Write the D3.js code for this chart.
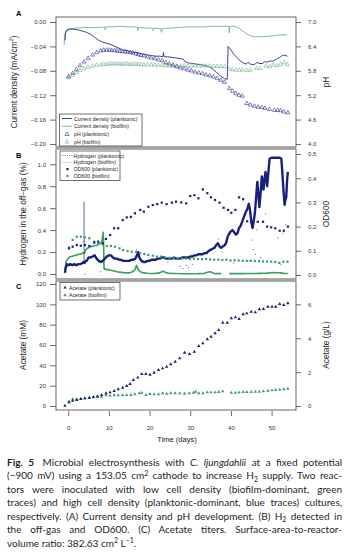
<!DOCTYPE html>
<html>
<head>
<meta charset="utf-8">
<script src="https://cdn.jsdelivr.net/npm/d3@7"></script>
<style>
  body { margin: 0; background: #fff; }
  svg { display: block; }
</style>
</head>
<body>
<svg id="chart" width="352" height="556"></svg>
<script>
// ---- data: [day, value] ----
const currentPlanktonic = [[-0.8,-0.030],[-0.6,-0.018],[-0.3,-0.013],[0.5,-0.011],[1.5,-0.012],[2.5,-0.013],[3.5,-0.015],[4.5,-0.017],[5.5,-0.020],[6.5,-0.025],[7.5,-0.030],[8.5,-0.033],[9.5,-0.035],[10.5,-0.037],[11.5,-0.040],[12.5,-0.043],[13.5,-0.046],[14.5,-0.047],[15.5,-0.049],[16.5,-0.050],[17.5,-0.051],[18.5,-0.053],[19.5,-0.054],[20.5,-0.055],[21.5,-0.056],[22.5,-0.056],[23.3,-0.057],[23.4,-0.050],[23.6,-0.057],[24.5,-0.057],[25.5,-0.058],[26.5,-0.059],[27.5,-0.060],[28.3,-0.061],[28.7,-0.065],[29.5,-0.067],[30.5,-0.068],[31.5,-0.069],[32.5,-0.070],[33.5,-0.071],[34.5,-0.073],[35.5,-0.077],[36.5,-0.083],[37.5,-0.089],[38.5,-0.093],[39.1,-0.094],[39.3,-0.040],[39.8,-0.044],[40.5,-0.051],[41.3,-0.057],[42,-0.062],[43,-0.067],[43.8,-0.069],[44.2,-0.066],[44.7,-0.069],[45.4,-0.070],[46,-0.069],[46.4,-0.066],[46.9,-0.068],[47.8,-0.068],[48.3,-0.065],[48.8,-0.066],[49.5,-0.064],[50.3,-0.064],[51.2,-0.061],[52,-0.058],[52.8,-0.054],[53.9,-0.056]]
const currentBiofilm = [[-1,-0.038],[-0.9,-0.020],[-0.5,-0.014],[0.5,-0.012],[2,-0.010],[4,-0.009],[6,-0.009],[8,-0.009],[9,-0.008],[9.1,-0.013],[9.3,-0.008],[11,-0.008],[13,-0.007],[15,-0.008],[17,-0.008],[17.1,-0.014],[17.3,-0.009],[19,-0.010],[20.8,-0.010],[20.9,-0.014],[21.1,-0.010],[22.8,-0.011],[22.9,-0.017],[23.1,-0.011],[25,-0.010],[27,-0.009],[30,-0.008],[33,-0.008],[36,-0.007],[39.5,-0.007],[39.6,-0.018],[39.8,-0.007],[41,-0.007],[42,-0.010],[43,-0.015],[44,-0.020],[45,-0.023],[46,-0.024],[48,-0.024],[50,-0.023],[52,-0.021],[53.8,-0.021]]
const pHPlanktonic = [[0.1,5.66],[1.1,5.74],[2,5.83],[2.9,5.93],[3.9,6.02],[4.9,6.11],[6,6.19],[7,6.25],[8,6.29],[8.7,6.31],[9.4,6.31],[10.1,6.31],[10.7,6.30],[11.4,6.30],[12,6.29],[12.7,6.28],[13.3,6.27],[14,6.27],[14.6,6.26],[15.3,6.25],[15.9,6.24],[16.6,6.22],[17.2,6.20],[17.9,6.18],[18.6,6.17],[19.5,6.14],[20.4,6.12],[21.3,6.10],[22.2,6.07],[23.1,6.05],[24,6.00],[24.9,5.97],[25.8,5.94],[26.7,5.90],[27.6,5.87],[28.5,5.85],[29.4,5.82],[30.3,5.80],[31.2,5.77],[32.1,5.75],[33,5.73],[33.9,5.70],[34.8,5.68],[35.7,5.65],[36.6,5.61],[37.5,5.57],[38.4,5.52],[39.6,5.37],[40.4,5.30],[41.2,5.24],[42,5.20],[42.8,5.18],[43.9,5.00],[44.8,4.96],[45.8,4.93],[46.7,4.91],[47.6,4.90],[48.4,4.88],[49.5,4.85],[50.7,4.83],[51.5,4.83],[52.2,4.82],[53,4.79],[54,4.77]]
const pHBiofilm = [[0.1,5.63],[1.1,5.69],[2,5.76],[2.9,5.81],[3.9,5.85],[4.9,5.89],[6,5.92],[7,5.94],[8,5.95],[8.7,5.96],[9.4,5.96],[10.1,5.97],[10.7,5.97],[11.4,5.97],[12,5.97],[12.7,5.97],[13.3,5.96],[14,5.97],[14.6,5.97],[15.3,5.96],[15.9,5.96],[16.6,5.97],[17.2,5.96],[17.9,5.96],[18.6,5.95],[19.5,5.95],[20.4,5.95],[21.3,5.94],[22.2,5.94],[23.1,5.93],[24,5.93],[24.9,5.92],[25.8,5.92],[26.7,5.92],[27.6,5.92],[28.5,5.93],[29.4,5.92],[30.3,5.92],[31.2,5.93],[32.1,5.92],[33,5.92],[33.9,5.92],[34.8,5.92],[35.7,5.91],[36.6,5.91],[37.5,5.91],[38.4,5.90],[39.6,5.84],[40.4,5.83],[41.2,5.82],[42,5.82],[42.8,5.82],[43.9,5.81],[44.8,5.82],[46.3,5.86],[47.2,5.86],[48.6,5.92],[49.5,5.90],[50.4,5.94],[51.3,5.93],[52.2,5.96],[53.1,6.00],[53.9,5.95]]

const h2Planktonic = [[-0.8,0.01],[-0.6,0.06],[-0.3,0.09],[0,0.08],[0.5,0.09],[1,0.08],[1.5,0.09],[2,0.08],[2.5,0.09],[3,0.09],[3.5,0.10],[3.8,0.11],[4.0,0.10],[4.3,0.12],[4.6,0.12],[5,0.15],[5.5,0.15],[6,0.16],[6.5,0.17],[7,0.14],[7.5,0.12],[8,0.11],[8.5,0.12],[9,0.14],[9.5,0.16],[10,0.17],[10.5,0.17],[11,0.15],[11.5,0.14],[12,0.14],[12.5,0.13],[13,0.13],[13.5,0.12],[14,0.12],[14.5,0.12],[15,0.12],[15.5,0.13],[16,0.13],[16.5,0.14],[17,0.18],[17.2,0.20],[17.5,0.15],[18,0.12],[18.5,0.11],[19,0.11],[19.5,0.12],[20,0.12],[20.5,0.13],[21,0.13],[21.5,0.13],[22,0.14],[22.5,0.14],[23,0.15],[23.5,0.15],[24,0.14],[24.5,0.14],[25,0.14],[25.5,0.14],[26,0.15],[26.5,0.14],[27,0.14],[27.5,0.14],[28,0.15],[28.5,0.15],[29,0.15],[29.5,0.15],[30,0.16],[30.5,0.16],[31,0.17],[31.5,0.17],[32,0.18],[32.5,0.18],[33,0.18],[33.5,0.19],[34,0.19],[34.5,0.21],[35,0.22],[35.5,0.23],[36,0.24],[36.5,0.27],[36.8,0.28],[37.2,0.25],[37.6,0.24],[38,0.25],[38.4,0.26],[38.8,0.28],[39.2,0.34],[39.6,0.37],[40,0.39],[40.4,0.40],[40.8,0.38],[41.2,0.36],[41.6,0.37],[42,0.42],[42.4,0.44],[42.8,0.48],[43.2,0.52],[43.6,0.56],[44,0.59],[44.4,0.64],[44.7,0.58],[45,0.48],[45.3,0.42],[45.6,0.48],[45.9,0.56],[46.2,0.70],[46.5,0.84],[46.7,0.75],[47,0.61],[47.3,0.74],[47.6,0.89],[47.8,0.85],[48,0.77],[48.2,0.84],[48.5,0.93],[48.7,0.88],[48.9,0.80],[49.2,0.92],[49.5,1.05],[50,1.06],[50.5,1.06],[51,1.06],[51.5,1.06],[52,1.06],[52.4,1.05],[52.6,0.95],[52.8,0.83],[53,0.72],[53.2,0.63],[53.4,0.68],[53.6,0.70],[53.8,0.85],[54,0.93]]
// isolated readings of the planktonic hydrogen trace (spike at day 3.9 and stray points)
const h2PlanktonicSpike = [[3.9,0.10],[3.9,0.66]]
const h2PlanktonicStray = [[3.9,0.30],[4.1,0.00],[8,0.02],[9,0.05],[16.8,0.22],[24.5,0.11],[27.5,0.07],[28.2,0.05],[29,0.08],[29.6,0.06],[30.5,0.09],[37,0.32],[38,0.20],[40.6,0.10],[44.5,0.12],[45.2,0.31],[45.5,0.22],[46,0.18],[46.4,0.40],[47.2,0.15],[48.5,0.55],[51.5,0.33],[52.3,0.09],[52.8,0.37],[53.5,0.45]]
const h2Biofilm = [[-0.8,0.02],[-0.5,0.12],[-0.2,0.13],[0.4,0.16],[1,0.16],[1.5,0.17],[2,0.17],[2.5,0.18],[3,0.18],[3.5,0.19],[4,0.19],[4.3,0.22],[4.6,0.23],[5,0.24],[5.5,0.25],[6,0.25],[6.5,0.26],[7,0.26],[7.5,0.27],[8,0.28],[8.3,0.30],[8.6,0.38],[8.7,0.30],[8.8,0.05],[9.2,0.04],[10,0.04],[10.5,0.035],[11,0.03],[12,0.02],[13,0.015],[14,0.01],[15,0.01],[15.8,0.02],[16.4,0.04],[16.8,0.08],[17.2,0.04],[17.7,0.02],[18.5,0.01],[19.5,0.007],[20.5,0.005],[21.5,0.006],[22.5,0.01],[23,0.02],[23.4,0.025],[23.8,0.015],[24.5,0.008],[25.5,0.005],[26.5,0.004],[28,0.002],[30,0.002],[32,0.003],[33.5,0.006],[34.5,0.018],[35,0.02],[35.5,0.01],[36.2,0.003],[37.6,0.003],[37.7,null],[39.6,0.003],[41,0.003],[42,0.004],[43,0.003],[44,0.004],[45,0.005],[46,0.005],[47,0.006],[48,0.007],[49,0.008],[50,0.012],[50.8,0.014],[51.5,0.012],[52.3,0.01],[53,0.006],[54,0.004]]
const odPlanktonic = [[0.2,0.110],[1.1,0.117],[2.1,0.124],[3.1,0.121],[4.1,0.124],[5.2,0.120],[6.4,0.134],[7.4,0.138],[8.5,0.131],[9.3,0.149],[10.3,0.165],[11.3,0.193],[12.3,0.193],[13.4,0.227],[14.4,0.238],[15.4,0.240],[16.4,0.255],[17.7,0.269],[18.6,0.262],[19.7,0.282],[20.8,0.289],[21.9,0.293],[23,0.299],[24.2,0.293],[25.5,0.299],[26.5,0.303],[27.8,0.300],[29,0.296],[30,0.326],[31,0.330],[32,0.317],[33.1,0.354],[34.2,0.338],[35.1,0.321],[36.1,0.310],[37.2,0.299],[38.2,0.278],[39.3,0.269],[40.1,0.257],[41.1,0.269],[42,0.321],[43,0.313],[44,0.222],[45,0.220],[46.6,0.220],[47.9,0.220],[48.9,0.200],[49.9,0.197],[50.9,0.193],[52,0.183],[53,0.183],[54,0.200]]
const odBiofilm = [[0.2,0.114],[1.1,0.145],[2.1,0.158],[3.1,0.158],[4.1,0.156],[5.2,0.152],[6.4,0.138],[7.4,0.131],[8.5,0.127],[9.5,0.120],[10.5,0.120],[11.5,0.117],[12.6,0.110],[13.5,0.103],[14.6,0.099],[15.6,0.096],[16.7,0.094],[17.7,0.090],[18.7,0.087],[19.7,0.083],[20.8,0.080],[21.8,0.076],[22.8,0.076],[23.8,0.073],[24.9,0.071],[25.9,0.069],[26.9,0.069],[27.9,0.068],[28.9,0.068],[29.9,0.066],[30.9,0.067],[31.9,0.066],[32.9,0.065],[33.9,0.066],[34.9,0.064],[35.9,0.063],[36.9,0.064],[37.9,0.062],[38.9,0.063],[39.9,0.060],[40.9,0.061],[41.9,0.060],[42.9,0.059],[43.9,0.058],[44.9,0.059],[45.9,0.058],[46.9,0.057],[47.9,0.056],[48.9,0.056],[49.9,0.055],[50.9,0.054],[51.9,0.050],[52.9,0.055],[53.9,0.055]]

const acetatePlanktonic = [[-0.8,0.3],[0.2,3.6],[1.1,5.2],[2.1,5.9],[3.1,6.9],[4.1,7.5],[5.2,8.2],[6.2,8.9],[7.2,9.5],[8.2,10.8],[9.3,12.5],[10.3,13.4],[11.3,14.8],[12.3,16.4],[13.4,18.0],[14.4,19.7],[15.2,21.6],[16,25.6],[17.1,27.9],[18.1,31.5],[19.1,31.5],[20.1,30.8],[21.1,32.8],[22.2,35.4],[23.2,37.0],[24.2,38.7],[25.2,41.0],[26.3,43.6],[27.4,46.9],[28.6,52.4],[29.8,51.1],[31,53.4],[32.1,59.0],[33.1,61.7],[34.2,65.6],[35.1,68.2],[36.1,71.5],[37,74.8],[38,81.9],[39.1,81.9],[40.1,86.3],[41.1,87.2],[42,85.6],[43,90.2],[43.9,91.1],[45,92.8],[46,92.1],[47,95.1],[48,95.4],[49.1,97.7],[50.1,97.7],[51,97.7],[52,100.3],[53,99.3],[54,101.0]]
const acetateBiofilm = [[0.2,4.3],[1.1,6.6],[2.1,6.6],[3.1,7.2],[4.1,7.5],[5.2,7.8],[6.2,8.5],[7.2,9.2],[8.2,9.2],[9.3,10.5],[10.3,10.2],[11.3,10.5],[12.3,10.5],[13.4,10.5],[14.4,10.8],[15.4,10.8],[16.4,11.5],[17.5,12.5],[18.1,13.1],[19.1,10.8],[20.1,11.8],[21.1,11.5],[22.2,11.5],[23.2,12.5],[24.2,12.1],[25.2,12.5],[26.3,12.5],[27.4,12.5],[28.6,12.1],[29.8,12.5],[30.8,13.1],[31.3,14.1],[32.1,12.5],[33.1,12.5],[34.2,13.4],[35.1,13.4],[36.1,13.4],[37,13.8],[38,14.4],[40.1,13.1],[41.1,13.1],[42,13.4],[43,13.8],[43.9,13.8],[45,13.8],[46,14.1],[47,14.1],[48,14.4],[49.1,15.1],[50.1,15.4],[51,15.7],[52,16.1],[53,16.4],[54,17.0]]

// ---- tick labels ----
const dayTicks = [0, 10, 20, 30, 40, 50]
const currentTicks = [0, -0.04, -0.08, -0.12, -0.16, -0.20]
const pHTicks = [4.0, 4.6, 5.2, 5.8, 6.4, 7.0]
const h2Ticks = [0, 0.2, 0.4, 0.6, 0.8, 1.0]
const odTicks = [0, 0.1, 0.2, 0.3, 0.4, 0.5]
const acetateMMTicks = [0, 20, 40, 60, 80, 100, 120]
const acetateGLTicks = [0, 2, 4, 6]

const svg = d3.select('#chart')
const blue = '#2b2f8f', navy = '#17207c', green = '#3f9e63', paleGreen = '#70b68a'
const font = 'Liberation Sans, Arial, sans-serif'
const left = 56, right = 296

let x = d3.scaleLinear().domain([-3.0, 56.0]).range([left, right])

// panel scales (A, B, C)
let yCur = d3.scaleLinear().domain([-0.2049, 0.0082]).range([147, 17])
let yPH = d3.scaleLinear().domain([3.926, 7.123]).range([147, 17])
let yH2 = d3.scaleLinear().domain([-0.0456, 1.1395]).range([279, 149])
let yOD = d3.scaleLinear().domain([-0.0165, 0.5207]).range([279, 149])
let yAc = d3.scaleLinear().domain([-3.93, 122.95]).range([410, 281])
let yAcG = d3.scaleLinear().domain([-3.93 * 0.06, 122.95 * 0.06]).range([410, 281])

let styleAxis = (g) => {
  g.select('.domain').remove()
  g.selectAll('line').attr('stroke', '#444').attr('stroke-width', 0.8)
  g.selectAll('text').attr('fill', '#333').style('font-family', font).style('font-size', '6px')
}

let drawAxes = (yL, tl, fmtL, yR, tr, fmtR) => {
  svg.append('g').attr('transform', `translate(${left},0)`)
     .call(d3.axisLeft(yL).tickValues(tl).tickFormat(fmtL).tickSize(6).tickPadding(4))
     .call(styleAxis)
  svg.append('g').attr('transform', `translate(${right},0)`)
     .call(d3.axisRight(yR).tickValues(tr).tickFormat(fmtR).tickSize(5).tickPadding(7))
     .call(styleAxis)
}

let yTitle = (txt, cx, cy) => {
  let t = svg.append('text')
     .attr('transform', `translate(${cx},${cy})rotate(-90)`)
     .attr('text-anchor', 'middle')
     .attr('dominant-baseline', 'central')
     .style('font-family', font).style('font-size', '8.3px').style('fill', '#222')
  return t.text(txt)
}

let panelLetter = (txt, y) => {
  svg.append('text').text(txt).attr('x', 16).attr('y', y)
     .style('font-family', font).style('font-size', '7.5px').style('font-weight', 'bold')
}

let tri = d3.symbol().type(d3.symbolTriangle)

let drawLegend = (x0, y0, w, h, items) => {
  let g = svg.append('g')
  g.append('rect').attr('x', x0).attr('y', y0).attr('width', w).attr('height', h)
   .attr('fill', 'white').attr('stroke', '#333').attr('stroke-width', 0.7)
  items.forEach((it) => {
    let sx = it.sx
    if (it.kind == 'line' || it.kind == 'dots') {
      g.append('line').attr('x1', sx - 5).attr('x2', sx + 5).attr('y1', it.y).attr('y2', it.y)
       .attr('stroke', it.color).attr('stroke-width', it.kind == 'line' ? 0.9 : 0.8)
       .attr('stroke-dasharray', it.kind == 'dots' ? '0.8,1.4' : null)
    } else if (it.kind == 'otri') {
      g.append('path').attr('d', tri.size(7)()).attr('transform', `translate(${sx},${it.y})`)
       .attr('fill', 'none').attr('stroke', it.color).attr('stroke-width', 0.6)
    } else if (it.kind == 'ftri') {
      g.append('path').attr('d', tri.size(5)()).attr('transform', `translate(${sx},${it.y})`)
       .attr('fill', it.color)
    } else {
      g.append('rect').attr('x', sx - 1.1).attr('y', it.y - 1.1).attr('width', 2.2).attr('height', 2.2)
       .attr('fill', it.color)
    }
    g.append('text').text(it.label).attr('x', it.tx).attr('y', it.y)
     .attr('dominant-baseline', 'central')
     .style('font-family', font).style('font-size', '5.2px').style('fill', '#222')
  })
}

// ---- frames ----
svg.append('rect').attr('x', left).attr('y', 17).attr('width', right - left).attr('height', 130)
   .attr('fill', 'none').attr('stroke', '#555').attr('stroke-width', 0.9)
svg.append('rect').attr('x', left).attr('y', 149).attr('width', right - left).attr('height', 130)
   .attr('fill', 'none').attr('stroke', '#555').attr('stroke-width', 0.9)
svg.append('rect').attr('x', left).attr('y', 281).attr('width', right - left).attr('height', 129)
   .attr('fill', 'none').attr('stroke', '#555').attr('stroke-width', 0.9)
svg.append('rect').attr('x', left).attr('y', 146.6).attr('width', right - left).attr('height', 2.8).attr('fill', '#a3a3a3')
svg.append('rect').attr('x', left).attr('y', 278.6).attr('width', right - left).attr('height', 2.8).attr('fill', '#a3a3a3')

// ---- panel A ----
drawAxes(yCur, currentTicks, d3.format('.2f'), yPH, pHTicks, d3.format('.1f'))
yTitle('', 14, 82).call(t => {
  t.append('tspan').text('Current density (mA/cm')
  t.append('tspan').text('2').attr('dy', -3).style('font-size', '5.5px')
  t.append('tspan').text(')').attr('dy', 3)
})
yTitle('pH', 326, 82)
panelLetter('A', 16)

let curLine = d3.line().x(d => x(d[0])).y(d => yCur(d[1]))
svg.append('path').datum(currentBiofilm).attr('d', curLine)
   .attr('fill', 'none').attr('stroke', paleGreen).attr('stroke-width', 0.9)
svg.append('path').datum(currentPlanktonic).attr('d', curLine)
   .attr('fill', 'none').attr('stroke', blue).attr('stroke-width', 0.9)

svg.append('g').selectAll('path').data(pHBiofilm).join('path')
   .attr('d', tri.size(7)()).attr('transform', d => `translate(${x(d[0])},${yPH(d[1])})`)
   .attr('fill', 'none').attr('stroke', paleGreen).attr('stroke-width', 0.6)
svg.append('g').selectAll('path').data(pHPlanktonic).join('path')
   .attr('d', tri.size(7)()).attr('transform', d => `translate(${x(d[0])},${yPH(d[1])})`)
   .attr('fill', 'none').attr('stroke', blue).attr('stroke-width', 0.6)

drawLegend(59.5, 114, 82.5, 32, [
  {kind: 'line', color: blue, label: 'Current density (planktonic)', y: 118.5, sx: 67, tx: 74},
  {kind: 'line', color: paleGreen, label: 'Current density (biofilm)', y: 126.3, sx: 67, tx: 74},
  {kind: 'otri', color: blue, label: 'pH (planktonic)', y: 134.3, sx: 67, tx: 74},
  {kind: 'otri', color: paleGreen, label: 'pH (biofilm)', y: 142, sx: 67, tx: 74}
])

// ---- panel B ----
drawAxes(yH2, h2Ticks, d3.format('.1f'), yOD, odTicks, d3.format('.1f'))
yTitle('Hydrogen in the off\u2212gas (%)', 23, 214)
yTitle('OD600', 326, 214)
panelLetter('B', 158)

let h2Line = d3.line().defined(d => d[1] != null).x(d => x(d[0])).y(d => yH2(d[1]))
svg.append('path').datum(h2Biofilm).attr('d', h2Line)
   .attr('fill', 'none').attr('stroke', green).attr('stroke-width', 1.6).attr('stroke-linejoin', 'round')
svg.append('path').datum(h2Planktonic).attr('d', h2Line)
   .attr('fill', 'none').attr('stroke', navy).attr('stroke-width', 2.4).attr('stroke-linejoin', 'round')
svg.append('path').datum(h2PlanktonicSpike).attr('d', h2Line)
   .attr('fill', 'none').attr('stroke', navy).attr('stroke-width', 0.7)
svg.append('g').selectAll('circle').data(h2PlanktonicStray).join('circle')
   .attr('cx', d => x(d[0])).attr('cy', d => yH2(d[1])).attr('r', 0.5).attr('fill', navy)

svg.append('g').selectAll('rect').data(odBiofilm).join('rect')
   .attr('x', d => x(d[0]) - 1.1).attr('y', d => yOD(d[1]) - 1.1).attr('width', 2.2).attr('height', 2.2)
   .attr('fill', green)
svg.append('g').selectAll('rect').data(odPlanktonic).join('rect')
   .attr('x', d => x(d[0]) - 1.1).attr('y', d => yOD(d[1]) - 1.1).attr('width', 2.2).attr('height', 2.2)
   .attr('fill', navy)

drawLegend(60, 151, 60, 29.5, [
  {kind: 'dots', color: blue, label: 'Hydrogen (planktonic)', y: 155.5, sx: 67.5, tx: 73.5},
  {kind: 'dots', color: green, label: 'Hydrogen (biofilm)', y: 162.3, sx: 67.5, tx: 73.5},
  {kind: 'sq', color: navy, label: 'OD600 (planktonic)', y: 169.1, sx: 67.5, tx: 73.5},
  {kind: 'sq', color: green, label: 'OD600 (biofilm)', y: 175.9, sx: 67.5, tx: 73.5}
])

// ---- panel C ----
drawAxes(yAc, acetateMMTicks, d3.format('d'), yAcG, acetateGLTicks, d3.format('d'))
yTitle('Acetate (mM)', 23, 345)
yTitle('Acetate (g/L)', 326, 345)
panelLetter('C', 289)

svg.append('g').selectAll('path').data(acetateBiofilm).join('path')
   .attr('d', tri.size(5)()).attr('transform', d => `translate(${x(d[0])},${yAc(d[1])})`)
   .attr('fill', green)
svg.append('g').selectAll('path').data(acetatePlanktonic).join('path')
   .attr('d', tri.size(5)()).attr('transform', d => `translate(${x(d[0])},${yAc(d[1])})`)
   .attr('fill', navy)

drawLegend(60, 282.5, 60, 17.5, [
  {kind: 'ftri', color: navy, label: 'Acetate (planktonic)', y: 287.6, sx: 65, tx: 69},
  {kind: 'ftri', color: green, label: 'Acetate (biofilm)', y: 295.2, sx: 65, tx: 69}
])

// x axis
svg.append('g').attr('transform', 'translate(0,411)')
   .call(d3.axisBottom(x).tickValues(dayTicks).tickFormat(d3.format('d')).tickSize(5).tickPadding(10))
   .call(styleAxis)
svg.append('text').text('Time (days)').attr('x', 177).attr('y', 442)
   .attr('text-anchor', 'middle')
   .style('font-family', font).style('font-size', '7.5px').style('fill', '#222')

// ---- caption ----
const capLines = [
  [['Fig. 5', 'b'], [' Microbial electrosynthesis with ', ''], ['C. ljungdahlii', 'i'], [' at a fixed potential', '']],
  [['(\u2212900 mV) using a 153.05 cm', ''], ['2', 'sup'], [' cathode to increase H', ''], ['2', 'sub'], [' supply. Two reac-', '']],
  [['tors were inoculated with low cell density (biofilm-dominant, green', '']],
  [['traces) and high cell density (planktonic-dominant, blue traces) cultures,', '']],
  [['respectively. (A) Current density and pH development. (B) H', ''], ['2', 'sub'], [' detected in', '']],
  [['the off-gas and OD600. (C) Acetate titers. Surface-area-to-reactor-', '']],
  [['volume ratio: 382.63 cm', ''], ['2', 'sup'], [' L', ''], ['\u22121', 'sup'], ['.', '']]
]
const capX = 7, capW = 335, capY = 465.5, capStep = 13.5

capLines.forEach((segs, i) => {
  let t = svg.append('text').attr('x', capX).attr('y', capY + i * capStep)
             .style('font-family', 'Lato, sans-serif').style('font-size', '10px').style('fill', '#231f20')
  let shift = 0
  segs.forEach(([s, k]) => {
    let ts = t.append('tspan').text(s)
    let target = k == 'sup' ? -3.5 : (k == 'sub' ? 2.5 : 0)
    if (target != shift) { ts.attr('dy', target - shift); shift = target }
    if (k == 'sup' || k == 'sub') ts.style('font-size', '7px')
    if (k == 'b') ts.style('font-weight', 'bold')
    if (k == 'i') ts.style('font-style', 'italic')
    if (i == 0 && s.startsWith(' Micro')) ts.attr('dx', 3)
  })
  if (i < capLines.length - 1) {
    let full = segs.map(s => s[0]).join('')
    let spaces = full.split(' ').length - 1
    let len = t.node().getComputedTextLength() + (i == 0 ? 3 : 0)
    t.attr('word-spacing', (capW - len) / spaces)
  }
})
</script>
</body>
</html>
